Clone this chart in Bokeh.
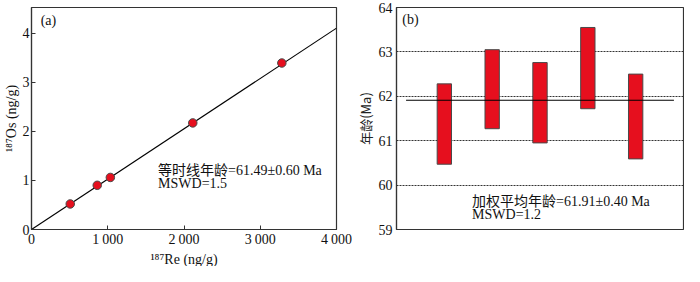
from bokeh.plotting import figure
from bokeh.layouts import row
from bokeh.models import Range1d, FixedTicker, Title
from bokeh.core.properties import value
from bokeh.embed import file_html
from bokeh.resources import INLINE

# ---------------- data ----------------
# panel (a): Re-Os isochron
re187 = [508, 862, 1034, 2115, 3283]
os187 = [0.52, 0.90, 1.06, 2.17, 3.39]
isochron_x = [0, 4000]
isochron_y = [0, 4.1]
a_xticks = [0, 1000, 2000, 3000, 4000]
a_xtick_labels = ["0", "1\u2009000", "2\u2009000", "3\u2009000", "4\u2009000"]
a_yticks = [0, 1, 2, 3, 4]
a_xlabel = "¹⁸⁷Re (ng/g)"
a_ylabel = "¹⁸⁷Os (ng/g)"
a_text = ["等时线年龄=61.49±0.60 Ma", "MSWD=1.5"]
a_text_x = [1660, 1660]
a_text_y = [1.20, 0.94]

# panel (b): weighted mean ages
sample_idx = [1, 2, 3, 4, 5]
age_low = [60.47, 61.27, 60.95, 61.72, 60.59]
age_high = [62.28, 63.05, 62.76, 63.55, 62.50]
mean_x = [0.2, 5.8]
mean_y = [61.91, 61.91]
b_yticks = [59, 60, 61, 62, 63, 64]
b_grid = [60, 61, 62, 63]
b_ylabel = "年龄(Ma)"
b_text = ["加权平均年龄=61.91±0.40 Ma", "MSWD=1.2"]
b_text_x = [1.58, 1.58]
b_text_y = [59.63, 59.33]

FONT = "'Liberation Serif', 'Noto Sans CJK SC'"
RED = "#e60f1e"
EDGE = "#4a4a4a"
FS = "14px"

# ---------------- panel (a) ----------------
pa = figure(width=352, height=266, output_backend="svg", toolbar_location=None,
            x_range=Range1d(0, 4000), y_range=Range1d(0, 4.52),
            min_border_left=29, min_border_right=16, min_border_top=7, min_border_bottom=0)
pa.outline_line_color = "#333333"
pa.outline_line_width = 1.2
pa.outline_line_alpha = 1
pa.xgrid.visible = False
pa.ygrid.visible = False

pa.line(isochron_x, isochron_y, line_color="black", line_width=1.1)
pa.scatter(re187, os187, size=8.5, fill_color=RED, line_color=EDGE, line_width=1)
pa.text(x=a_text_x, y=a_text_y, text=a_text, text_font=value(FONT),
        text_font_size=FS, text_baseline="middle", text_align="left", text_color="#111111")
pa.text(x=[120], y=[4.25], text=["(a)"], text_font=value(FONT),
        text_font_size=FS, text_baseline="middle", text_align="left", text_color="#111111")

for ax in (pa.xaxis[0], pa.yaxis[0]):
    ax.axis_line_color = "#333333"
    ax.axis_line_width = 1.2
    ax.major_tick_in = 4
    ax.major_tick_out = 0
    ax.minor_tick_line_color = None
    ax.major_tick_line_color = "#333333"
    ax.major_label_text_font = FONT
    ax.major_label_text_font_size = FS
    ax.major_label_text_color = "#111111"
    ax.axis_label_text_font = FONT
    ax.axis_label_text_font_size = FS
    ax.axis_label_text_font_style = "normal"
    ax.axis_label_text_color = "#111111"
    ax.major_label_standoff = 2
    ax.axis_label_standoff = 1

pa.xaxis.ticker = FixedTicker(ticks=a_xticks)
pa.xaxis.major_label_overrides = {t: l for t, l in zip(a_xticks, a_xtick_labels)}
pa.yaxis.ticker = FixedTicker(ticks=a_yticks)
pa.yaxis.axis_label = a_ylabel
pa.add_layout(Title(text=a_xlabel, align="center", standoff=0, offset=0,
                    text_font=FONT, text_font_size=FS, text_font_style="normal",
                    text_color="#111111", text_line_height=1.0), "below")

# ---------------- panel (b) ----------------
pb = figure(width=332, height=266, output_backend="svg", toolbar_location=None,
            x_range=Range1d(0, 6), y_range=Range1d(59, 64),
            min_border_left=34, min_border_right=1, min_border_top=7, min_border_bottom=0)
pb.outline_line_color = "#333333"
pb.outline_line_width = 1.2
pb.outline_line_alpha = 1
pb.xgrid.visible = False
pb.ygrid.ticker = FixedTicker(ticks=b_grid)
pb.ygrid.grid_line_color = "#333333"
pb.ygrid.grid_line_dash = "2 1"
pb.ygrid.grid_line_width = 1
pb.xaxis.visible = False

pb.vbar(x=sample_idx, width=0.3, bottom=age_low, top=age_high,
        fill_color=RED, line_color=EDGE, line_width=1)
pb.line(mean_x, mean_y, line_color="black", line_width=1.1)
pb.text(x=b_text_x, y=b_text_y, text=b_text, text_font=value(FONT),
        text_font_size=FS, text_baseline="middle", text_align="left", text_color="#111111")
pb.text(x=[0.12], y=[63.73], text=["(b)"], text_font=value(FONT),
        text_font_size=FS, text_baseline="middle", text_align="left", text_color="#111111")

ay = pb.yaxis[0]
ay.ticker = FixedTicker(ticks=b_yticks)
ay.axis_line_color = "#333333"
ay.axis_line_width = 1.2
ay.major_tick_in = 0
ay.major_tick_out = 0
ay.minor_tick_line_color = None
ay.major_label_text_font = FONT
ay.major_label_text_font_size = FS
ay.major_label_text_color = "#111111"
ay.major_label_standoff = 4
ay.axis_label = b_ylabel
ay.axis_label_text_font = "'Noto Sans CJK SC', 'Liberation Serif'"
ay.axis_label_text_font_size = "13px"
ay.axis_label_text_font_style = "normal"
ay.axis_label_text_color = "#222222"
ay.axis_label_standoff = 1

layout = row(pa, pb)
open("out.html", "w").write(file_html(layout, INLINE))
